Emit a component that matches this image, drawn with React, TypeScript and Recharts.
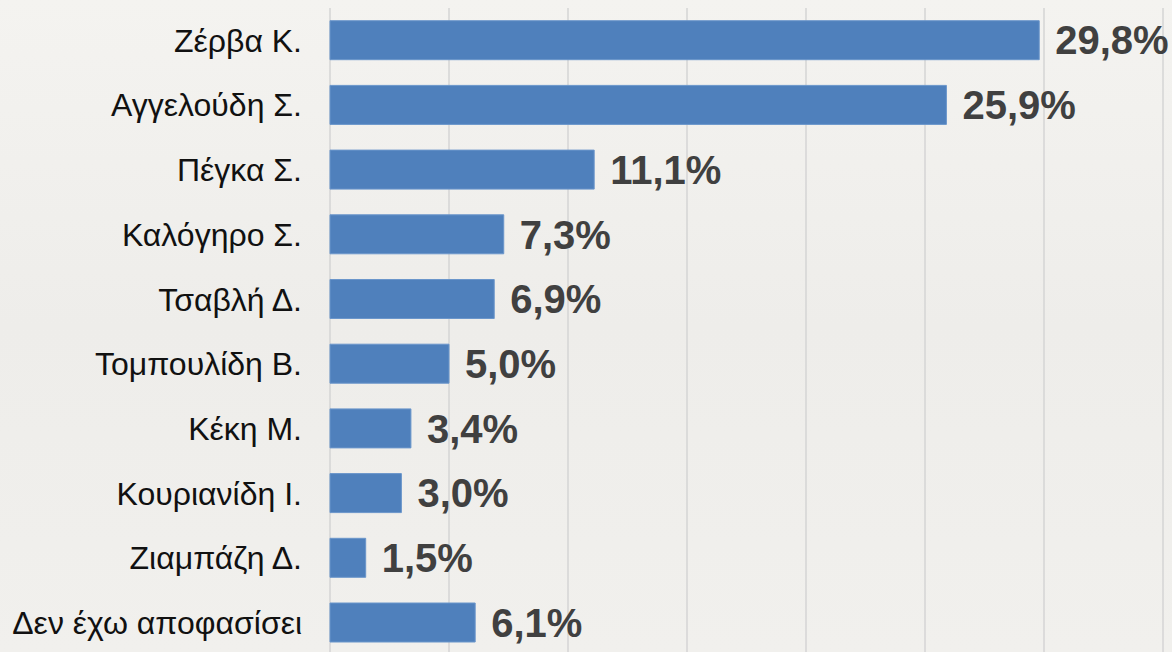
import React from 'react'
import { BarChart, Bar, XAxis, YAxis, CartesianGrid, LabelList } from 'recharts'

const candidates = [
  'Ζέρβα Κ.',
  'Αγγελούδη Σ.',
  'Πέγκα Σ.',
  'Καλόγηρο Σ.',
  'Τσαβλή Δ.',
  'Τομπουλίδη Β.',
  'Κέκη Μ.',
  'Κουριανίδη Ι.',
  'Ζιαμπάζη Δ.',
  'Δεν έχω αποφασίσει',
]
const shares = [29.8, 25.9, 11.1, 7.3, 6.9, 5.0, 3.4, 3.0, 1.5, 6.1]
const xTicks = [0, 5, 10, 15, 20, 25, 30, 35]

const data = candidates.map((name, i) => ({ name, value: shares[i] }))

const font = '"Liberation Sans", Arial, sans-serif'

export default function App() {
  return (
    <div
      style={{
        position: 'absolute',
        left: 0,
        top: 0,
        width: 1172,
        height: 652,
        overflow: 'hidden',
        background: 'linear-gradient(180deg, #f4f3f0 0%, #eeedea 50%, #f1f0ed 100%)',
        fontFamily: font,
      }}
    >
      <BarChart
        width={1172}
        height={652}
        data={data}
        layout="vertical"
        margin={{ top: 8, right: 9, left: 0, bottom: -3 }}
        barCategoryGap={12.7}
      >
        <CartesianGrid horizontal={false} stroke="#d4d4d4" strokeWidth={1.5} />
        <XAxis type="number" domain={[0, 35]} ticks={xTicks} hide />
        <YAxis
          type="category"
          dataKey="name"
          width={330}
          axisLine={false}
          tickLine={false}
          tickSize={0}
          tickMargin={28}
          interval={0}
          tick={{ fill: '#111', fontSize: 32, fontFamily: font }}
        />
        <Bar dataKey="value" fill="#4f80bc" stroke="#6b96cb" strokeWidth={1} isAnimationActive={false}>
          <LabelList
            dataKey="value"
            position="right"
            offset={16}
            formatter={(v: number) => `${v.toFixed(1).replace('.', ',')}%`}
            style={{ fill: '#404040', fontSize: 40, fontWeight: 'bold', fontFamily: font }}
          />
        </Bar>
      </BarChart>
    </div>
  )
}
